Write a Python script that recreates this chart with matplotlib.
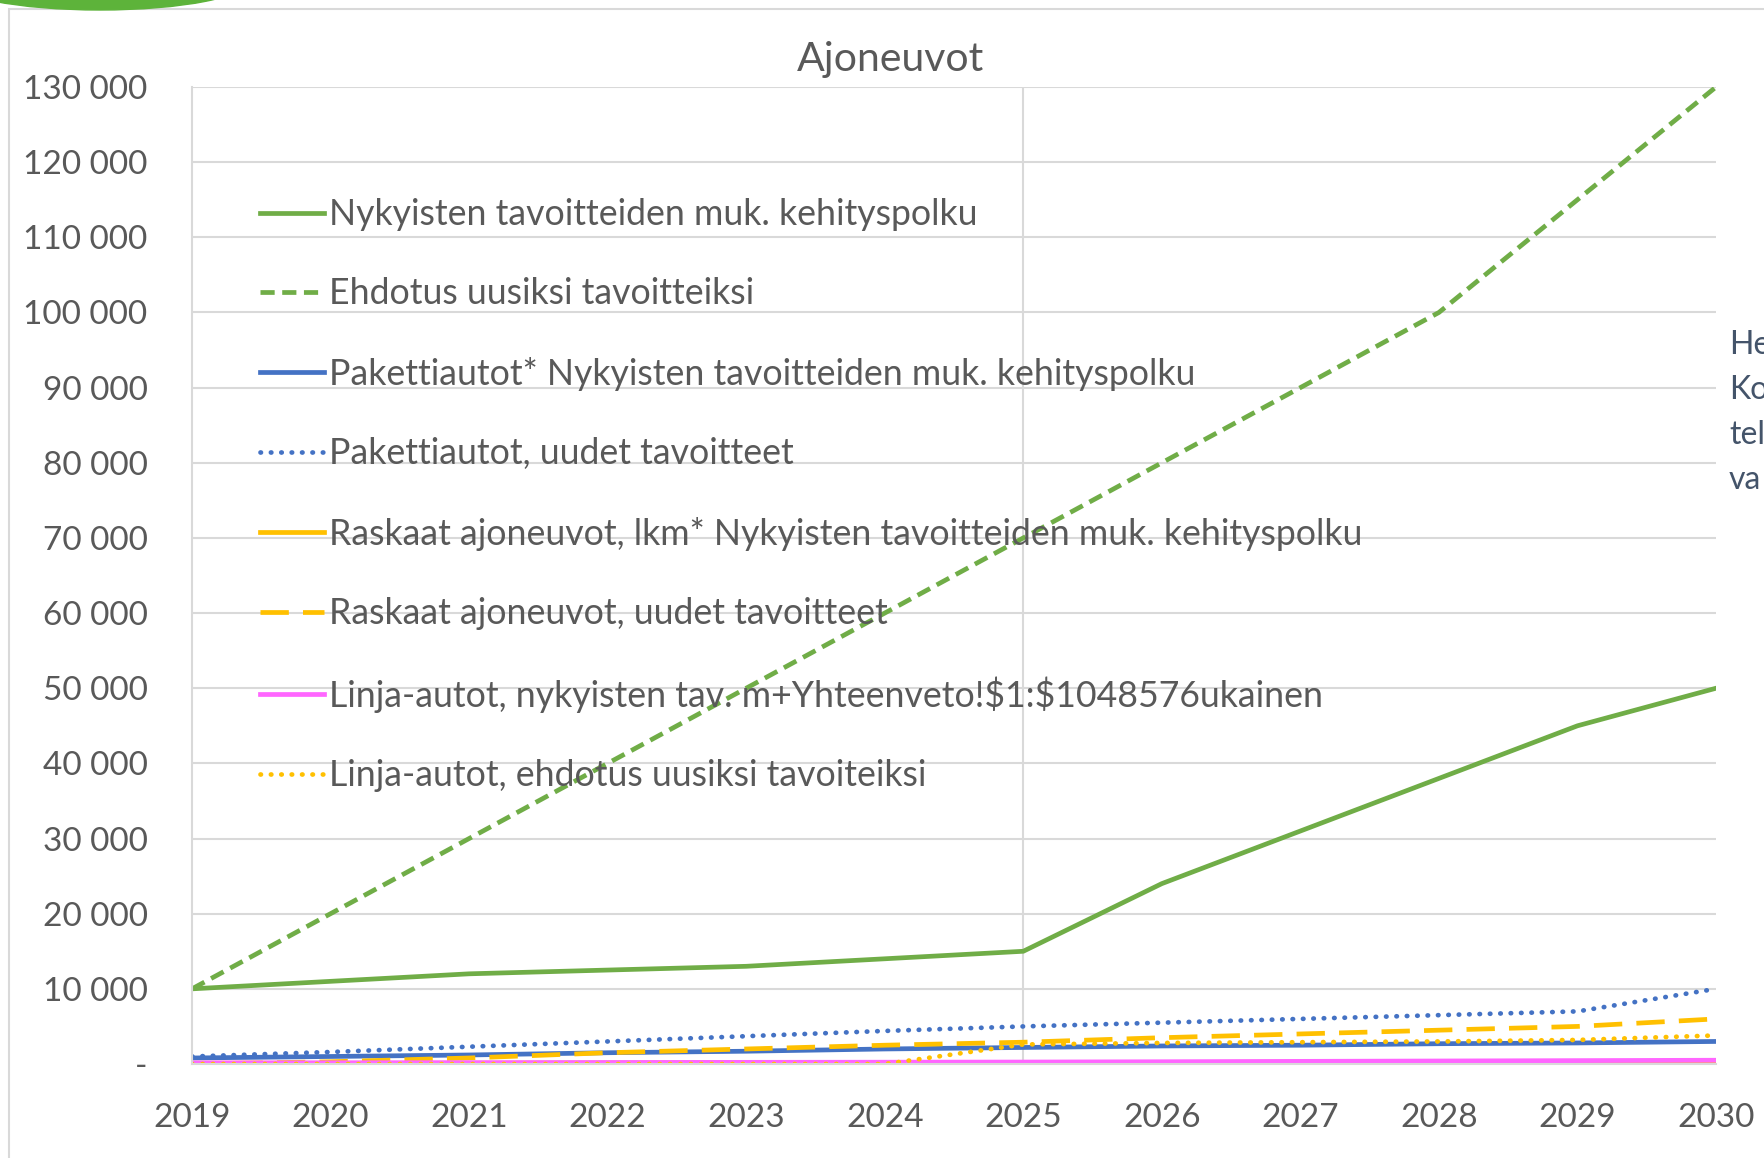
import matplotlib.pyplot as plt
from matplotlib.patches import Ellipse, Rectangle
from matplotlib.ticker import FuncFormatter

plt.rcParams['font.family'] = ['Lato', 'DejaVu Sans']

years = [2019, 2020, 2021, 2022, 2023, 2024, 2025, 2026, 2027, 2028, 2029, 2030]

nykyiset = [10000, 11000, 12000, 12500, 13000, 14000, 15000, 24000, 31000, 38000, 45000, 50000]
ehdotus = [10000, 20000, 30000, 40000, 50000, 60000, 70000, 80000, 90000, 100000, 115000, 130000]
paketti_nyk = [800, 1000, 1200, 1500, 1700, 2000, 2200, 2400, 2500, 2700, 2800, 3000]
paketti_uudet = [1000, 1600, 2300, 3000, 3700, 4400, 5000, 5500, 6000, 6500, 7000, 10000]
raskaat_nyk = [100, 100, 100, 150, 150, 150, 200, 200, 250, 250, 300, 300]
raskaat_uudet = [0, 300, 800, 1500, 2000, 2500, 2900, 3500, 4000, 4500, 5000, 6000]
linja_nyk = [150, 160, 180, 200, 220, 240, 260, 300, 350, 400, 450, 500]
linja_uudet = [0, 0, 0, 0, 0, 0, 2600, 2800, 2900, 3000, 3200, 3800]

labels = [
    "Nykyisten tavoitteiden muk. kehityspolku",
    "Ehdotus uusiksi tavoitteiksi",
    "Pakettiautot* Nykyisten tavoitteiden muk. kehityspolku",
    "Pakettiautot, uudet tavoitteet",
    "Raskaat ajoneuvot, lkm* Nykyisten tavoitteiden muk. kehityspolku",
    "Raskaat ajoneuvot, uudet tavoitteet",
    "Linja-autot, nykyisten tav. m+Yhteenveto!\\$1:\\$1048576ukainen",
    "Linja-autot, ehdotus uusiksi tavoiteiksi",
]
marker_year = 2025
side_text = ["He", "Ko", "tel", "va"]

green = '#70AD47'
blue = '#4472C4'
yellow = '#FFC000'
pink = '#FF66FF'
gray = '#595959'
grid = '#D9D9D9'

fig = plt.figure(figsize=(17.64, 11.58), dpi=100)
ax = fig.add_axes([192/1764, 1-1064/1158, (1716-192)/1764, (1064-87)/1158])

lw = 3.4
ax.plot(years, nykyiset, color=green, lw=lw, label=labels[0])
ax.plot(years, ehdotus, color=green, lw=lw, ls=(0, (3, 1.6)), label=labels[1])
ax.plot(years, paketti_nyk, color=blue, lw=lw, label=labels[2])
ax.plot(years, paketti_uudet, color=blue, lw=lw, ls=(0, (0.1, 2.1)),
        dash_capstyle='round', label=labels[3])
ax.plot(years, raskaat_nyk, color=yellow, lw=lw, label=labels[4])
ax.plot(years, raskaat_uudet, color=yellow, lw=lw, ls=(0, (6, 3)), label=labels[5])
ax.plot(years, linja_nyk, color=pink, lw=lw, label=labels[6])
ax.plot(years, linja_uudet, color=yellow, lw=lw, ls=(0, (0.1, 2.1)),
        dash_capstyle='round', label=labels[7])

ax.set_xlim(2019, 2030)
ax.set_ylim(0, 130000)
ax.set_xticks(years)
ax.set_yticks(range(0, 130001, 10000))
ax.yaxis.set_major_formatter(FuncFormatter(
    lambda v, p: '-' if v == 0 else f"{int(v):,}".replace(',', ' ')))
ax.grid(axis='y', color=grid, lw=1.5)
ax.axvline(marker_year, color=grid, lw=1.5, zorder=0)
ax.set_axisbelow(True)
for s in ['top', 'right']:
    ax.spines[s].set_visible(False)
for s in ['left', 'bottom']:
    ax.spines[s].set_color(grid)
    ax.spines[s].set_linewidth(1.5)
ax.tick_params(length=0, labelsize=24, labelcolor=gray)
ax.tick_params(axis='y', pad=32)
ax.tick_params(axis='x', pad=28)

fig.text(891/1764, 1 - 59/1158, "Ajoneuvot", fontsize=29.5, color=gray,
         ha='center', va='center')

ax.legend(loc='upper left', bbox_to_anchor=(260/1764, 1-198/1158),
          bbox_transform=fig.transFigure, frameon=False, fontsize=25.7,
          labelcolor=gray, handlelength=1.8, handletextpad=0.13,
          labelspacing=1.3, borderpad=0, borderaxespad=0)

# chart area frame and cut-off text from the screenshot
fig.add_artist(Rectangle((9/1764, -0.1), 1.2, 1 - 9/1158 + 0.1,
                         transform=fig.transFigure, fill=False,
                         edgecolor=grid, lw=1.5))
fig.add_artist(Ellipse((100/1764, 1 + 20/1158), 300/1764, 60/1158,
                       transform=fig.transFigure, color='#5DB33A'))
for i, t in enumerate(side_text):
    fig.text(1729/1764, 1 - (345 + 45*i)/1158, t, fontsize=23, color='#44546A',
             va='center', ha='left')

fig.savefig("out.png", dpi=100)
